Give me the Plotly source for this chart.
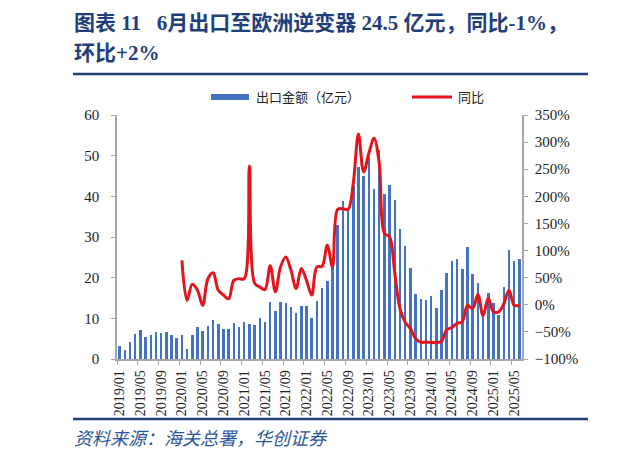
import plotly.graph_objects as go

# 出口至欧洲逆变器 月度数据 2019/01 - 2025/06
months = [f"{y}/{m:02d}" for y in range(2019, 2026) for m in range(1, 13)][:78]

export_value = [
    3.3, 2.1, 4.2, 6.1, 7.1, 5.5, 6.0, 6.6, 6.4, 6.6, 6.0, 5.2,
    6.0, 2.4, 5.9, 7.8, 6.9, 8.1, 9.6, 8.5, 7.4, 7.5, 8.8, 7.8,
    9.2, 8.7, 8.3, 10.2, 9.0, 14.1, 11.9, 14.0, 13.8, 12.9, 11.3, 13.1,
    13.1, 10.2, 14.2, 17.4, 19.2, 23.2, 32.9, 38.8, 36.6, 42.6, 47.2, 45.1,
    49.7, 41.9, 51.4, 40.6, 42.9, 39.0, 31.9, 27.8, 22.4, 16.0, 14.8, 14.4,
    15.6, 12.5, 17.0, 21.2, 24.0, 24.7, 22.1, 27.5, 20.9, 18.8, 11.8, 16.2,
    13.7, 10.8, 17.7, 26.7, 24.0, 24.5,
]

yoy = [None] * 12 + [
    82, 8, 38, 27, -1, 48, 59, 27, 18, 11, 45, 48,
    48, 256, 40, 33, 28, 72, 24, 70, 88, 64, 30, 67,
    45, 18, 70, 71, 110, 70, 176, 177, 176, 224, 315, 245,
    279, 307, 261, 132, 125, 58, -7, -32, -44, -62, -69, -69,
    -69, -70, -67, -46, -42, -34, -31, -1, -7, 19, -20, 12,
    -13, -13, 2, 27, -1, -1,
]

tick_idx = list(range(0, 78, 4))
tick_text = [months[i] for i in tick_idx]

# the page body adds an 8px margin, so the figure is drawn 8px smaller
OFF = 8
W, H = 620 - OFF, 461 - OFF
L, R, T, B = 117, 522, 115, 359  # plot area in page pixels

def px(x):
    return (x - L) / (R - L)

def py(y):
    return (B - y) / (B - T)

navy = "#1F3F7A"
serif = "Liberation Serif, Noto Sans CJK SC"
idx = list(range(len(months)))

fig = go.Figure()
fig.add_trace(go.Bar(
    x=idx, y=export_value, name="出口金额（亿元）",
    marker=dict(color="#4472C4", line_width=0), width=0.48,
))
fig.add_trace(go.Scatter(
    x=idx, y=yoy, name="同比", yaxis="y2", mode="lines",
    line=dict(color="#E3141B", width=3, shape="spline", smoothing=1.0),
    connectgaps=False,
))

fig.update_layout(
    width=W, height=H,
    margin=dict(l=L - OFF, r=620 - R, t=T - OFF, b=461 - B, pad=0),
    paper_bgcolor="white", plot_bgcolor="white",
    showlegend=False,
    bargap=0,
    font=dict(family=serif, size=13, color="#222222"),
    xaxis=dict(
        range=[-0.5, 77.5], tickvals=tick_idx, ticktext=tick_text,
        tickangle=-90, ticks="", showgrid=False, zeroline=False,
        showline=True, linecolor="#A6A6A6", linewidth=1.5,
        tickfont=dict(family="Liberation Serif", size=14, color="#222"),
        minor=dict(tickvals=[i - 0.5 for i in tick_idx], ticks="outside",
                   ticklen=4, tickcolor="#A6A6A6", tickwidth=1),
        ticklabelstandoff=4,
    ),
    yaxis=dict(
        range=[0, 60], dtick=10, showgrid=False, zeroline=False,
        showline=True, linecolor="#A6A6A6", linewidth=1.5,
        ticks="outside", ticklen=4, tickcolor="#A6A6A6",
        tickfont=dict(family="Liberation Serif", size=15, color="#222"),
        ticklabelstandoff=9,
    ),
    yaxis2=dict(
        range=[-100, 350], dtick=50, ticksuffix="%", overlaying="y",
        side="right", showgrid=False, zeroline=False,
        showline=True, linecolor="#A6A6A6", linewidth=1.5,
        ticks="outside", ticklen=4, tickcolor="#A6A6A6",
        tickfont=dict(family="Liberation Serif", size=15, color="#222"),
        ticklabelstandoff=4,
    ),
)

# 标题、分隔线、图例、来源
fig.add_annotation(
    x=px(72), y=py(23), xref="paper", yref="paper", xanchor="left", yanchor="middle",
    text="<b>图表 11\u2002 6月出口至欧洲逆变器 24.5 亿元，同比-1%，</b>",
    showarrow=False, font=dict(family=serif, size=21, color=navy),
)
fig.add_annotation(
    x=px(72), y=py(53), xref="paper", yref="paper", xanchor="left", yanchor="middle",
    text="<b>环比+2%</b>",
    showarrow=False, font=dict(family=serif, size=21, color=navy),
)
for yy in (74, 419):
    fig.add_shape(type="line", xref="paper", yref="paper",
                  x0=px(73), x1=px(588), y0=py(yy), y1=py(yy),
                  line=dict(color=navy, width=2.5))
    fig.add_shape(type="line", xref="paper", yref="paper",
                  x0=px(614), x1=px(621), y0=py(yy), y1=py(yy),
                  line=dict(color=navy, width=2.5))
# 右侧相邻图表的残留边缘
fig.add_shape(type="line", xref="paper", yref="paper",
              x0=px(615), x1=px(615), y0=py(16), y1=py(31),
              line=dict(color=navy, width=2.5))
fig.add_shape(type="line", xref="paper", yref="paper",
              x0=px(613), x1=px(621), y0=py(58), y1=py(58),
              line=dict(color=navy, width=2))

fig.add_shape(type="rect", xref="paper", yref="paper",
              x0=px(211), x1=px(249), y0=py(100), y1=py(94),
              fillcolor="#4472C4", line_width=0)
fig.add_annotation(
    x=px(254), y=py(97), xref="paper", yref="paper", xanchor="left", yanchor="middle",
    text="出口金额（亿元）", showarrow=False,
    font=dict(family=serif, size=13, color="#222"),
)
fig.add_shape(type="line", xref="paper", yref="paper",
              x0=px(412), x1=px(452), y0=py(97), y1=py(97),
              line=dict(color="#E3141B", width=3))
fig.add_annotation(
    x=px(456), y=py(97), xref="paper", yref="paper", xanchor="left", yanchor="middle",
    text="同比", showarrow=False,
    font=dict(family=serif, size=13, color="#222"),
)
fig.add_annotation(
    x=px(72), y=py(439), xref="paper", yref="paper", xanchor="left", yanchor="middle",
    text="<i>资料来源：海关总署，华创证券</i>", showarrow=False,
    font=dict(family=serif, size=18, color="#2B5597"),
)

fig.write_html("out.html")
